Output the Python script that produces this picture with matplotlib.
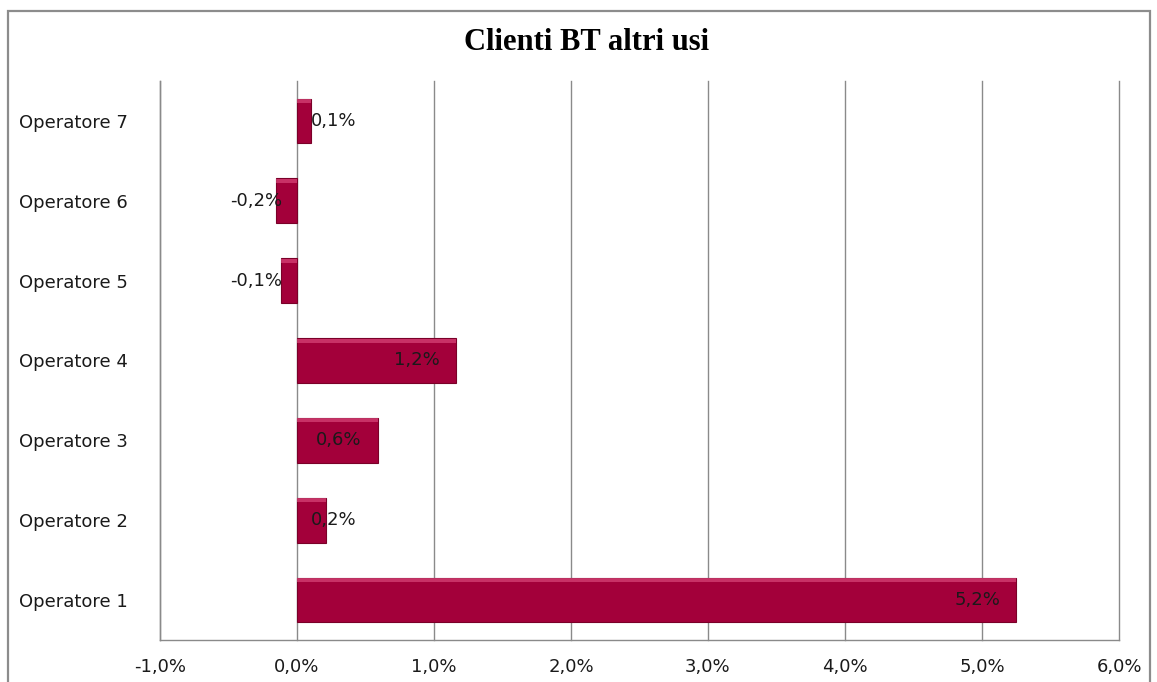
import matplotlib
matplotlib.use("Agg")
import matplotlib.pyplot as plt
from matplotlib.patches import Rectangle

categories = ["Operatore 1", "Operatore 2", "Operatore 3", "Operatore 4",
              "Operatore 5", "Operatore 6", "Operatore 7"]
values = [5.25, 0.21, 0.59, 1.16, -0.12, -0.15, 0.10]
labels = ["5,2%", "0,2%", "0,6%", "1,2%", "-0,1%", "-0,2%", "0,1%"]
xticks = [-1, 0, 1, 2, 3, 4, 5, 6]
xticklabels = ["-1,0%", "0,0%", "1,0%", "2,0%", "3,0%", "4,0%", "5,0%", "6,0%"]
title = "Clienti BT altri usi"

fig = plt.figure(figsize=(11.57, 6.82), dpi=100)
fig.patch.set_facecolor("white")
fig.add_artist(Rectangle((8/1157, -0.05), (1150-8)/1157, 1.05 - 11/682,
                         transform=fig.transFigure, fill=False,
                         edgecolor="#8c8c8c", linewidth=1.6))

ax = fig.add_axes([160/1157, 42/682, (1119-160)/1157, (640-81)/682])
y = list(range(len(categories)))
ax.barh(y, values, height=0.56, color="#a3003a", edgecolor="#7a0028",
        linewidth=0.8, zorder=3)
# subtle highlight on top edge for bevel look
ax.barh([yy + 0.25 for yy in y], values, height=0.05, color="#d8467a",
        linewidth=0, zorder=4, alpha=0.7)

fs = 13
for yy, v, lab in zip(y, values, labels):
    if v >= 0:
        xr = max(v - 0.117, 0.437)
    else:
        xr = -0.11
    ax.text(xr, yy, lab, ha="right", va="center", fontsize=fs,
            color="#1a1a1a", zorder=5)

ax.set_xlim(-1, 6)
ax.set_ylim(-0.5, 6.5)
ax.set_xticks(xticks)
ax.set_xticklabels(xticklabels, fontsize=fs, color="#1a1a1a")
ax.set_yticks(y)
ax.set_yticklabels(categories, fontsize=fs, color="#1a1a1a")
ax.tick_params(axis="both", length=0)
ax.tick_params(axis="x", pad=13)
ax.tick_params(axis="y", pad=23)
ax.grid(axis="x", color="#8a8a8a", linewidth=1, zorder=0)
for gl in ax.get_xgridlines():
    gl.set_clip_on(False)
ax.set_axisbelow(True)
for s in ["top", "right"]:
    ax.spines[s].set_visible(False)
for s in ["left", "bottom"]:
    ax.spines[s].set_color("#8a8a8a")
    ax.spines[s].set_linewidth(1)

fig.text(587/1157, 1 - 43/682, title, ha="center", va="center",
         fontsize=22, fontweight="bold", family="Liberation Serif")

fig.savefig("out.png", dpi=100)
